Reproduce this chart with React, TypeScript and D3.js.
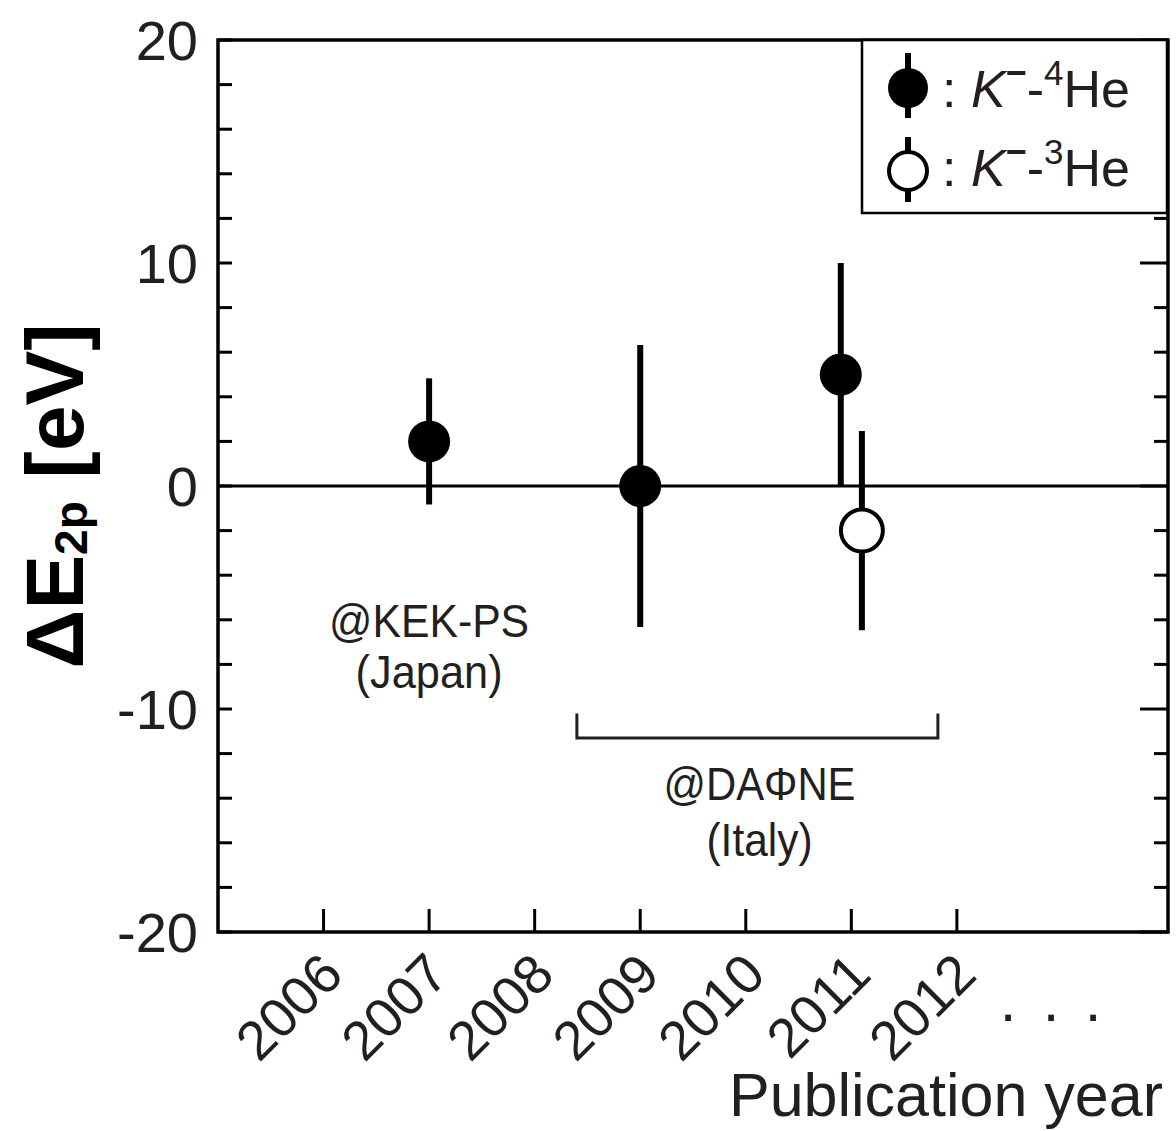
import React from "react";
import * as d3 from "d3";

// ---- data ----
const pubYear = [2007, 2009, 2010.9, 2011.1];
const deltaE = [2, 0, 5, -2];
const errE = [2.83, 6.32, 5, 4.47];
const target = ["4He", "4He", "4He", "3He"];

const yearTicks = [2006, 2007, 2008, 2009, 2010, 2011, 2012];
const yTickLabels = [20, 10, 0, -10, -20];

const W = 1176;
const H = 1131;
const FONT = "'Liberation Sans', Arial, Helvetica, sans-serif";
const INK = "#231f20";

export default function App() {
  const x = d3.scaleLinear().domain([2005, 2014]).range([218, 1168]);
  const y = d3.scaleLinear().domain([-20, 20]).range([932, 40]);
  const [x0, x1] = x.range();
  const [yb, yt] = y.range();
  const minorTicks = d3.range(-20, 20.001, 2);

  return (
    <svg
      width={W}
      height={H}
      viewBox={`0 0 ${W} ${H}`}
      style={{ position: "absolute", left: 0, top: 0, background: "#fff" }}
      fontFamily={FONT}
    >
      <rect x={0} y={0} width={W} height={H} fill="#fff" />

      {/* zero line */}
      <line x1={x0} x2={x1} y1={y(0)} y2={y(0)} stroke="#000" strokeWidth={3} />

      {/* left ticks */}
      {minorTicks.map((t) => (
        <line key={"l" + t} x1={x0} x2={x0 + 14} y1={y(t)} y2={y(t)} stroke="#000" strokeWidth={3} />
      ))}
      {/* right ticks */}
      {minorTicks.map((t) => (
        <line
          key={"r" + t}
          x1={x1}
          x2={x1 - (t % 10 === 0 ? 28 : 14)}
          y1={y(t)}
          y2={y(t)}
          stroke="#000"
          strokeWidth={3}
        />
      ))}
      {/* bottom ticks */}
      {yearTicks.map((t) => (
        <line key={"b" + t} x1={x(t)} x2={x(t)} y1={yb} y2={yb - 23} stroke="#000" strokeWidth={3} />
      ))}

      {/* frame */}
      <rect x={x0} y={yt} width={x1 - x0} height={yb - yt} fill="none" stroke="#000" strokeWidth={3.5} />

      {/* y tick labels */}
      {yTickLabels.map((t) => (
        <text key={"yl" + t} x={198} y={y(t) + 20} fontSize={56} textAnchor="end" fill={INK}>
          {t}
        </text>
      ))}

      {/* x tick labels */}
      {yearTicks.map((t) => (
        <text
          key={"xl" + t}
          transform={`translate(${x(t) + 22},977) rotate(-45)`}
          fontSize={55}
          textAnchor="end"
          fill={INK}
        >
          {t}
        </text>
      ))}

      {/* dots */}
      <text y={1021} fontSize={60} textAnchor="middle" fill={INK}>
        <tspan x={1008}>.</tspan>
        <tspan x={1051}>.</tspan>
        <tspan x={1093}>.</tspan>
      </text>

      {/* x title */}
      <text x={1163} y={1116} fontSize={61} textAnchor="end" fill={INK}>
        Publication year
      </text>

      {/* y title */}
      <text transform="translate(83,496) rotate(-90)" textAnchor="middle" fontWeight="bold" fontSize={82} fill="#000">
        ΔE
        <tspan fontSize={46} dy={4}>2p</tspan>
        <tspan dy={-4}> [eV]</tspan>
      </text>

      {/* bracket for DAFNE */}
      <path
        d={`M${x(2008.4)},${y(-10.2)} V${y(-11.3)} H${x(2011.82)} V${y(-10.2)}`}
        fill="none"
        stroke={INK}
        strokeWidth={3}
      />

      {/* annotations */}
      <g fill={INK} fontSize={46} textAnchor="middle">
        <text x={x(2007)} y={637} textLength={200} lengthAdjust="spacingAndGlyphs">@KEK-PS</text>
        <text x={x(2007)} y={688} textLength={147} lengthAdjust="spacingAndGlyphs">(Japan)</text>
        <text x={x(2010.13)} y={800} textLength={192} lengthAdjust="spacingAndGlyphs">@DAΦNE</text>
        <text x={x(2010.13)} y={856} textLength={106} lengthAdjust="spacingAndGlyphs">(Italy)</text>
      </g>

      {/* error bars */}
      {pubYear.map((yr, i) => (
        <line
          key={"e" + i}
          x1={x(yr)}
          x2={x(yr)}
          y1={y(deltaE[i] + errE[i])}
          y2={y(deltaE[i] - errE[i])}
          stroke="#000"
          strokeWidth={6}
        />
      ))}
      {/* markers */}
      {pubYear.map((yr, i) =>
        target[i] === "4He" ? (
          <circle key={"m" + i} cx={x(yr)} cy={y(deltaE[i])} r={21} fill="#000" />
        ) : (
          <circle key={"m" + i} cx={x(yr)} cy={y(deltaE[i])} r={21} fill="#fff" stroke="#000" strokeWidth={4} />
        )
      )}

      {/* legend */}
      <rect x={862} y={40} width={305} height={173} fill="#fff" stroke="#000" strokeWidth={2.5} />
      <line x1={908} x2={908} y1={53} y2={118} stroke="#000" strokeWidth={6} />
      <circle cx={908} cy={88} r={20} fill="#000" />
      <line x1={908} x2={908} y1={137} y2={202} stroke="#000" strokeWidth={6} />
      <circle cx={908} cy={171} r={19} fill="#fff" stroke="#000" strokeWidth={4} />
      {[
        { label: "4", yb: 107 },
        { label: "3", yb: 186 },
      ].map((d) => (
        <text key={d.label} x={942} y={d.yb} fontSize={52} fill={INK}>
          :{" "}
          <tspan fontStyle="italic">K</tspan>
          <tspan fontSize={36} dy={-22} fontWeight="bold">−</tspan>
          <tspan fontSize={52} dy={22}>-</tspan>
          <tspan fontSize={35} dy={-22}>{d.label}</tspan>
          <tspan fontSize={52} dy={22}>He</tspan>
        </text>
      ))}
    </svg>
  );
}
